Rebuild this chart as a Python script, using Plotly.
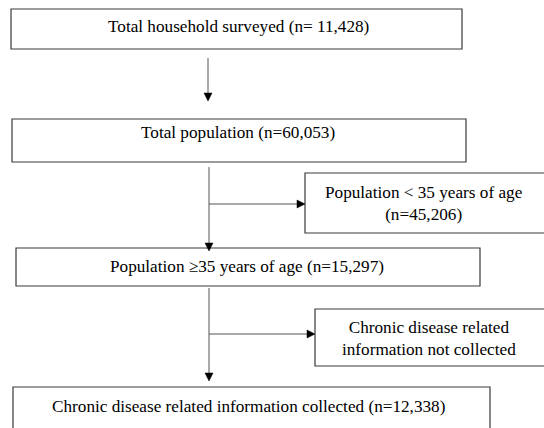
import plotly.graph_objects as go

# ---- content ----
box_texts = [
    "Total household surveyed (n= 11,428)",
    "Total population (n=60,053)",
    "Population < 35 years of age<br>(n=45,206)",
    "Population \u226535 years of age (n=15,297)",
    "Chronic disease related<br>information not collected",
    "Chronic disease related information collected (n=12,338)",
]

# ---- layout geometry (pixel space) ----
W, H = 544, 428
boxes = [  # x0, x1, y0, y1, text_x, text_y
    (11, 462, 9, 49, 238, 26),
    (12, 466, 119, 162, 238, 132),
    (305, 570, 173, 233, 424, 203),
    (16, 480, 248, 286, 247, 266),
    (315, 570, 309, 366, 429, 338),
    (13, 490, 387, 450, 248, 406),
]
# vertical connectors: x, y_start, y_tip
vlines = [(208, 58, 101), (209, 167, 251), (209, 288, 381)]
# horizontal connectors: y, x_start, x_tip
hlines = [(204, 209, 305), (334, 209, 315)]

fig = go.Figure()
fig.add_trace(go.Scatter(x=[0, W], y=[0, H], mode="markers",
                         marker=dict(opacity=0), hoverinfo="skip", showlegend=False))

shapes = []
annots = []
line_col = "#555555"
box_col = "#3a3a3a"
font = dict(family="Liberation Serif", size=17.2, color="black")
for (x0, x1, y0, y1, tx, ty), t in zip(boxes, box_texts):
    shapes.append(dict(type="rect", xref="x", yref="y", x0=x0, x1=x1, y0=y0, y1=y1,
                       line=dict(color=box_col, width=1.2), fillcolor="white", layer="below"))
    annots.append(dict(x=tx, y=ty, xref="x", yref="y", text=t, showarrow=False,
                       font=font, xanchor="center", yanchor="middle", align="center"))

ah = 8  # arrowhead length
aw = 4  # arrowhead half-width
for x, ys, yt in vlines:
    shapes.append(dict(type="line", xref="x", yref="y", x0=x, x1=x, y0=ys, y1=yt - ah + 1,
                       line=dict(color=line_col, width=1)))
    shapes.append(dict(type="path", xref="x", yref="y",
                       path=f"M {x-aw},{yt-ah} L {x+aw},{yt-ah} L {x},{yt} Z",
                       fillcolor="black", line=dict(color="black", width=0.5)))
for y, xs, xt in hlines:
    shapes.append(dict(type="line", xref="x", yref="y", x0=xs, x1=xt - ah + 1, y0=y, y1=y,
                       line=dict(color=line_col, width=1)))
    shapes.append(dict(type="path", xref="x", yref="y",
                       path=f"M {xt-ah},{y-aw} L {xt-ah},{y+aw} L {xt},{y} Z",
                       fillcolor="black", line=dict(color="black", width=0.5)))

fig.update_layout(
    width=W, height=H, margin=dict(l=0, r=0, t=0, b=0),
    paper_bgcolor="white", plot_bgcolor="white",
    xaxis=dict(range=[0, W], visible=False, fixedrange=True),
    yaxis=dict(range=[H, 0], visible=False, fixedrange=True),
    shapes=shapes, annotations=annots, showlegend=False,
)
fig.write_html("out.html", config={"displayModeBar": False},
               post_script="document.body.style.margin='0';document.body.style.overflow='hidden';")
